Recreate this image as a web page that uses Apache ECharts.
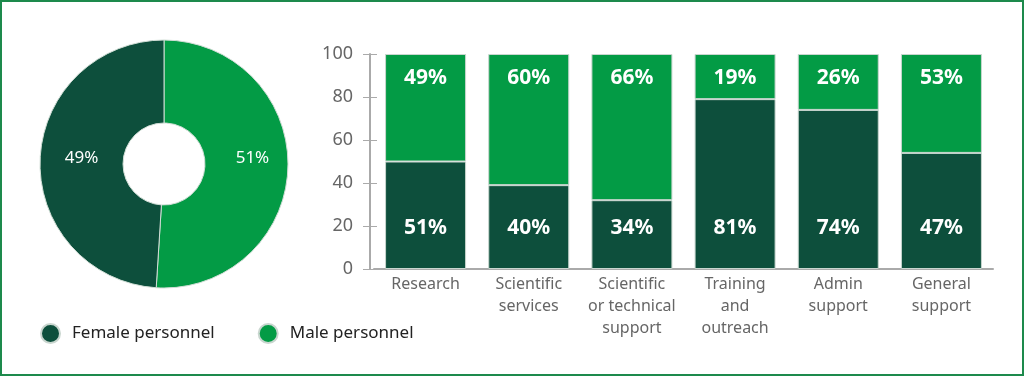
<!DOCTYPE html>
<html>
<head>
<meta charset="utf-8">
<script src="https://cdn.jsdelivr.net/npm/echarts@6/dist/echarts.min.js"></script>
<style>
html,body{margin:0;padding:0;background:#fff;}
#frame{position:absolute;left:0;top:0;width:1020px;height:372px;border:2px solid #1d8a4c;}
#chart{position:absolute;left:0;top:0;width:1024px;height:376px;}
</style>
</head>
<body>
<div id="frame"></div>
<div id="chart"></div>
<script>
// Overall split (donut)
const overallNames = ['Male personnel', 'Female personnel'];
const overallValues = [51, 49];

// Bars by role
const categories = ['Research', 'Scientific\nservices', 'Scientific\nor technical\nsupport', 'Training\nand\noutreach', 'Admin\nsupport', 'General\nsupport'];
const femaleValues = [50, 39, 32, 79, 74, 54];   // drawn heights
const maleValues = [50, 61, 68, 21, 26, 46];
const femaleLabels = ['51%', '40%', '34%', '81%', '74%', '47%'];
const maleLabels = ['49%', '60%', '66%', '19%', '26%', '53%'];
const yTicks = [0, 20, 40, 60, 80, 100];

const DARK = '#0d4f3c', BRIGHT = '#039b45';
const FONT = 'Noto Sans';
const pieLabelOffsets = [[3, -9], [3, -3]];

const chart = echarts.init(document.getElementById('chart'), null, {renderer: 'canvas'});
chart.setOption({
  animation: false,
  textStyle: {fontFamily: FONT},
  legend: {
    data: ['Female personnel', 'Male personnel'],
    left: 35, top: 318,
    icon: 'circle', itemWidth: 19, itemHeight: 19, itemGap: 43,
    textStyle: {fontFamily: FONT, fontSize: 17, color: '#222', padding: [0, 0, 0, 7]}
  },
  grid: {left: 374, right: 31, top: 54, bottom: 107},
  xAxis: {
    type: 'category', data: categories,
    axisLine: {lineStyle: {color: '#aaaaaa', width: 2}},
    axisTick: {show: false},
    axisLabel: {color: '#666', fontSize: 16, lineHeight: 22, margin: 4, interval: 0}
  },
  yAxis: [{
    type: 'value', min: yTicks[0], max: yTicks[yTicks.length - 1], interval: 20, offset: 4,
    axisLine: {show: true, lineStyle: {color: '#aaaaaa', width: 2}},
    axisTick: {show: true, length: 7, lineStyle: {color: '#aaaaaa', width: 1}},
    axisLabel: {color: '#666', fontSize: 18, margin: 17},
    splitLine: {show: false}
  }, {
    type: 'value', position: 'left', min: yTicks[0], max: yTicks[yTicks.length - 1], interval: 20, offset: 4,
    axisLine: {show: false},
    axisTick: {show: true, inside: true, length: 7, lineStyle: {color: '#aaaaaa', width: 1}},
    axisLabel: {show: false},
    splitLine: {show: false}
  }],
  series: [{
    type: 'pie', name: 'Overall',
    center: [164, 164], radius: [41, 124],
    startAngle: 90, clockwise: true,
    label: {show: true, position: 'inside', color: '#fff', fontSize: 17, formatter: p => p.value + '%'},
    labelLine: {show: false},
    itemStyle: {borderColor: '#d0ddd5', borderWidth: 1},
    data: overallNames.map((n, i) => ({name: n, value: overallValues[i],
      itemStyle: {color: i === 0 ? BRIGHT : DARK}, label: {offset: pieLabelOffsets[i]}}))
  }, {
    type: 'bar', name: 'Female personnel', stack: 'all', barWidth: 81,
    data: femaleValues,
    itemStyle: {color: DARK, borderColor: '#c9d6cf', borderWidth: 1},
    label: {show: true, position: 'insideBottom', distance: 30, color: '#fff', fontSize: 21, fontWeight: 'bold',
      formatter: p => femaleLabels[p.dataIndex]}
  }, {
    type: 'bar', name: 'Male personnel', stack: 'all', barWidth: 81,
    data: maleValues,
    itemStyle: {color: BRIGHT, borderColor: '#c9d6cf', borderWidth: 1},
    label: {show: true, position: 'insideTop', distance: 14, color: '#fff', fontSize: 21, fontWeight: 'bold',
      formatter: p => maleLabels[p.dataIndex]}
  }]
});
</script>
</body>
</html>
